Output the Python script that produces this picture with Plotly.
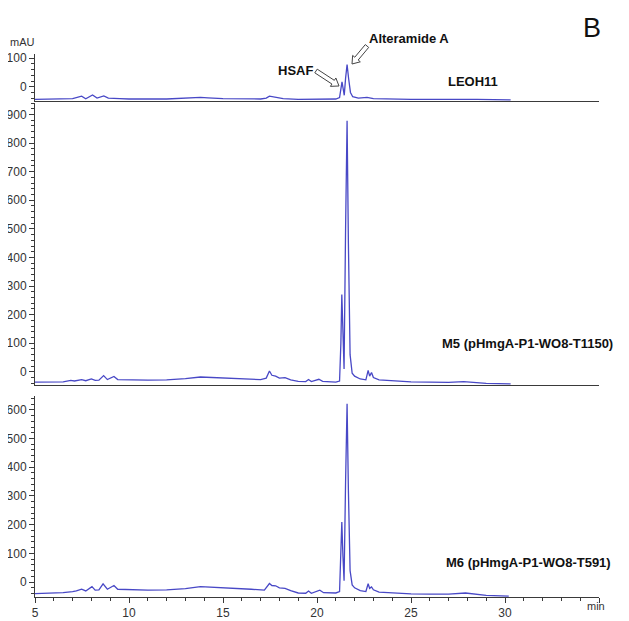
import math
import plotly.graph_objects as go

# ---- data (time in min, absorbance in mAU) ----
leoh11_t = [5.0, 6.0, 7.0, 7.48, 7.7, 8.06, 8.3, 8.66, 8.9, 9.5, 10.0, 12.0, 13.5, 13.8, 14.2,
            15.0, 17.0, 17.3, 17.47, 17.8, 18.2, 19.0, 20.0, 21.0, 21.2, 21.28, 21.33, 21.4,
            21.45, 21.52, 21.6, 21.68, 21.78, 21.9, 22.2, 22.66, 23.0, 25.0, 27.0, 28.0, 28.5, 30.3]
leoh11_v = [-44, -44, -42, -33, -42, -29, -40, -32, -40, -42, -43, -43, -40, -37, -39,
            -42, -43, -40, -33, -38, -42, -44, -43, -43, -38, -5, 17, -10,
            -30, 30, 78, 30, -20, -35, -40, -37, -42, -44, -44, -42, -44, -46]

m5_t = [5.0, 5.5, 6.0, 6.5, 6.9, 7.1, 7.48, 7.7, 8.0, 8.2, 8.4, 8.65, 8.85, 9.2, 9.4, 10.0,
        11.0, 12.0, 13.0, 13.8, 14.2, 15.0, 16.0, 17.0, 17.3, 17.47, 17.6, 17.8, 18.0, 18.3,
        18.6, 19.0, 19.4, 19.55, 19.7, 20.1, 20.3, 21.0, 21.2, 21.27, 21.32, 21.38, 21.44,
        21.52, 21.6, 21.67, 21.76, 21.87, 22.0, 22.3, 22.6, 22.72, 22.8, 22.9, 23.0, 23.3,
        23.95, 24.5, 25.0, 26.0, 27.0, 27.8, 28.3, 29.0, 30.3]
m5_v = [-36, -36, -36, -35, -30, -32, -27, -31, -25, -30, -29, -13, -27, -16, -27, -28,
        -29, -28, -24, -18, -19, -22, -24, -27, -22, 3, -12, -15, -22, -20,
        -28, -33, -34, -27, -34, -26, -33, -36, -32, 100, 270, 120, 10,
        500, 878, 450, 60, -5, -15, -25, -28, 5, -15, -2, -20, -28,
        -31, -34, -35, -36, -37, -34, -37, -40, -42]

m6_t = [5.0, 6.0, 6.5, 7.0, 7.2, 7.48, 7.7, 8.03, 8.2, 8.4, 8.62, 8.85, 9.2, 9.4, 10.0,
        11.0, 12.0, 13.0, 13.8, 14.5, 15.5, 16.5, 17.2, 17.47, 17.6, 17.8, 18.0, 18.3,
        18.6, 19.0, 19.4, 19.55, 19.7, 20.15, 20.35, 21.0, 21.2, 21.27, 21.32, 21.38, 21.44,
        21.52, 21.6, 21.67, 21.76, 21.87, 22.0, 22.3, 22.6, 22.72, 22.8, 22.9, 23.0, 23.3,
        24.0, 25.0, 26.0, 27.0, 27.9, 28.5, 29.0, 30.2]
m6_v = [-40, -39, -37, -33, -31, -25, -31, -16, -28, -27, -6, -25, -12, -25, -27,
        -28, -27, -23, -16, -18, -20, -25, -28, -5, -12, -13, -20, -22,
        -30, -38, -39, -31, -39, -28, -37, -38, -33, 80, 209, 90, 5,
        350, 621, 320, 40, -10, -20, -30, -33, -6, -22, -17, -27, -35,
        -38, -41, -42, -42, -38, -42, -46, -49]

x_major = [5, 10, 15, 20, 25, 30, 35]
x_labels = ["5", "10", "15", "20", "25", "30", ""]
y1_ticks = [0, 100]
y2_ticks = [0, 100, 200, 300, 400, 500, 600, 700, 800, 900]
y3_ticks = [0, 100, 200, 300, 400, 500, 600]

# ---- layout geometry (page has an 8px body margin) ----
OFF = 8
W, H = 629 - OFF, 621 - OFF
# plot area in screenshot pixels
PL, PR, PT, PB = 35, 599, 54, 597
PW, PH = PR - PL, PB - PT
ML, MT = PL - OFF, PT - OFF
MR, MB = W - (PR - OFF), H - (PB - OFF)


def px(xp):
    return (xp - PL) / PW


def py(yp):
    return (PB - yp) / PH


LINE = "#4848c6"
AX = "#3a3a3a"
FONT = "Arial, Liberation Sans, sans-serif"

fig = go.Figure()
fig.add_trace(go.Scatter(x=m6_t, y=m6_v, mode="lines", line=dict(color=LINE, width=1.3),
                         xaxis="x", yaxis="y", showlegend=False, hoverinfo="skip"))
fig.add_trace(go.Scatter(x=m5_t, y=m5_v, mode="lines", line=dict(color=LINE, width=1.3),
                         xaxis="x2", yaxis="y2", showlegend=False, hoverinfo="skip"))
fig.add_trace(go.Scatter(x=leoh11_t, y=leoh11_v, mode="lines", line=dict(color=LINE, width=1.3),
                         xaxis="x3", yaxis="y3", showlegend=False, hoverinfo="skip"))

tickfont = dict(family=FONT, size=12, color="#333333")
yminor = dict(dtick=20, ticks="outside", ticklen=3, tickcolor=AX)

xcommon = dict(range=[5, 35], showline=True, linecolor=AX, linewidth=1, showgrid=False,
               zeroline=False, automargin=False)
ycommon = dict(showline=True, linecolor=AX, linewidth=1, showgrid=False, zeroline=False,
               ticks="outside", ticklen=5, tickcolor=AX, tickfont=tickfont, tickmode="array",
               minor=yminor, automargin=False)

fig.update_layout(
    width=W, height=H, margin=dict(l=ML, r=MR, t=MT, b=MB, pad=0, autoexpand=False),
    paper_bgcolor="white", plot_bgcolor="white",
    font=dict(family=FONT, color="#111111"),
    xaxis=dict(**xcommon, anchor="y", ticks="outside", ticklen=5, tickcolor=AX,
               tickmode="array", tickvals=x_major, ticktext=x_labels, tickfont=tickfont,
               minor=dict(tickmode="linear", tick0=5, dtick=1, ticks="outside", ticklen=3,
                          tickcolor=AX)),
    xaxis2=dict(**xcommon, anchor="y2", matches="x", showticklabels=False, ticks=""),
    xaxis3=dict(**xcommon, anchor="y3", matches="x", showticklabels=False, ticks=""),
    yaxis=dict(**ycommon, domain=[0, py(396)], range=[-52, 648], tickvals=y3_ticks),
    yaxis2=dict(**ycommon, domain=[py(385), py(103)], range=[-46, 940], tickvals=y2_ticks),
    yaxis3=dict(**ycommon, domain=[py(101), 1], range=[-50, 115], tickvals=y1_ticks),
)

bold = dict(family=FONT, size=13, color="#111111")
ann = [
    dict(text="B", x=px(592), y=py(28), font=dict(family=FONT, size=27, color="#111111")),
    dict(text="mAU", x=px(22), y=py(42), font=dict(family=FONT, size=11, color="#333333")),
    dict(text="<b>HSAF</b>", x=px(295), y=py(70), font=bold),
    dict(text="<b>Alteramide A</b>", x=px(409), y=py(39), font=bold),
    dict(text="<b>LEOH11</b>", x=px(473), y=py(82), font=bold),
    dict(text="<b>M5 (pHmgA-P1-WO8-T1150)</b>", x=px(615), y=py(343), xanchor="right",
         font=bold),
    dict(text="<b>M6 (pHmgA-P1-WO8-T591)</b>", x=px(613), y=py(562), xanchor="right",
         font=bold),
    dict(text="min", x=px(596), y=py(606), font=dict(family=FONT, size=11, color="#333333")),
]
for a in ann:
    a.setdefault("xanchor", "center")
    fig.add_annotation(xref="paper", yref="paper", showarrow=False, yanchor="middle", **a)


# hollow arrows drawn as outlined polygons (pixel geometry -> paper coords)
def hollow_arrow(tail, head, shaft=2.2, headw=5.0, headl=7.0):
    tx, ty = tail
    hx, hy = head
    L = math.hypot(hx - tx, hy - ty)
    ux, uy = (hx - tx) / L, (hy - ty) / L
    nx, ny = -uy, ux
    bx, by = hx - ux * headl, hy - uy * headl
    pts = [
        (tx + nx * shaft, ty + ny * shaft),
        (bx + nx * shaft, by + ny * shaft),
        (bx + nx * headw, by + ny * headw),
        (hx, hy),
        (bx - nx * headw, by - ny * headw),
        (bx - nx * shaft, by - ny * shaft),
        (tx - nx * shaft, ty - ny * shaft),
    ]
    path = "M " + " L ".join(f"{px(x):.5f},{py(y):.5f}" for x, y in pts) + " Z"
    fig.add_shape(type="path", path=path, xref="paper", yref="paper",
                  line=dict(color="#444444", width=1), fillcolor="white")


hollow_arrow((316, 71), (339, 86))
hollow_arrow((367, 46), (352, 64))

fig.write_html("out.html")
